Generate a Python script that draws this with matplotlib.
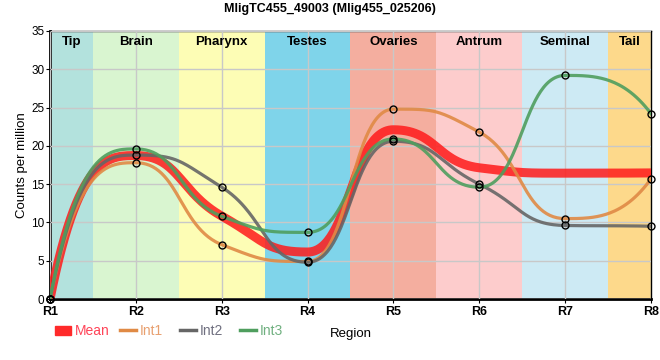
import matplotlib.pyplot as plt
import numpy as np
from matplotlib.lines import Line2D
from matplotlib.patches import Patch

plt.rcParams['font.family'] = ['Liberation Sans', 'DejaVu Sans']

regions = ['R1', 'R2', 'R3', 'R4', 'R5', 'R6', 'R7', 'R8']
tissues = ['Tip', 'Brain', 'Pharynx', 'Testes', 'Ovaries', 'Antrum', 'Seminal', 'Tail']
tissue_colors = ['#b3e2dd', '#d9f5d0', '#fdfdb5', '#7fd4ea',
                 '#f4ae9f', '#fdcccc', '#cdeaf4', '#fdd98b']
int1 = [0, 17.8, 7.1, 4.9, 24.8, 21.8, 10.5, 15.7]
int2 = [0, 18.8, 14.6, 4.8, 20.6, 15.0, 9.6, 9.5]
int3 = [0, 19.6, 10.8, 8.7, 20.9, 14.6, 29.2, 24.2]
mean = list(np.mean([int1, int2, int3], axis=0))


def spline(y, n=60):
    # bezier spline, tangents clamped so control points stay between neighbours
    y = np.asarray(y, float)
    k = len(y)
    x = np.arange(k, dtype=float)
    c = 0.5
    lc = [None] * k
    rc = [None] * k
    slope = np.zeros(k)
    for i in range(1, k - 1):
        ly = (y[i] + y[i - 1]) / 2
        ry = (y[i] + y[i + 1]) / 2
        corr = (ry - ly) / 2 + y[i] - ry
        ly += corr
        ry += corr
        if ly > y[i - 1] and ly > y[i]:
            ly = max(y[i - 1], y[i])
            ry = 2 * y[i] - ly
        elif ly < y[i - 1] and ly < y[i]:
            ly = min(y[i - 1], y[i])
            ry = 2 * y[i] - ly
        if ry > y[i + 1] and ry > y[i]:
            ry = max(y[i + 1], y[i])
            ly = 2 * y[i] - ry
        elif ry < y[i + 1] and ry < y[i]:
            ry = min(y[i + 1], y[i])
            ly = 2 * y[i] - ry
        slope[i] = (ry - ly) / (2 * c)
        lc[i] = (x[i] - c, ly)
        rc[i] = (x[i] + c, ry)
    # end segments: plain cubic with the far end aimed at the neighbour level
    rc[0] = (x[0] + 1 / 3, y[1])
    lc[k - 1] = (x[k - 1] - 1 / 3, y[k - 2])
    u = np.linspace(0, 1, n)[:, None]
    pts = []
    for i in range(k - 1):
        p1 = rc[i]
        p2 = lc[i + 1]
        if i == 0:
            p2 = (x[1] - 1 / 3, y[1] - slope[1] / 3)
        if i == k - 2:
            p1 = (x[i] + 1 / 3, y[i] + slope[i] / 3)
        p0 = np.array([x[i], y[i]])
        p3 = np.array([x[i + 1], y[i + 1]])
        p1 = np.array(p1)
        p2 = np.array(p2)
        pts.append((1 - u)**3 * p0 + 3 * (1 - u)**2 * u * p1
                   + 3 * (1 - u) * u**2 * p2 + u**3 * p3)
    pts = np.vstack(pts)
    return pts[:, 0], pts[:, 1]


fig = plt.figure(figsize=(6.6, 3.6), dpi=100)
ax = fig.add_axes([50 / 660, 61 / 360, 601 / 660, 268 / 360])

for i, (name, col) in enumerate(zip(tissues, tissue_colors)):
    ax.axvspan(max(i - 0.5, 0), min(i + 0.5, 7), color=col, lw=0, zorder=0)
    ax.text(i + (0.25 if i == 0 else -0.25 if i == 7 else 0), 34.3, name,
            ha='center', va='top', fontsize=9.5, fontweight='bold', zorder=5)

ax.grid(True, color='#c8c8c8', lw=1, zorder=1)
ax.set_axisbelow(False)

series = [('Int1', int1, '#e08a45'), ('Int2', int2, '#666666'), ('Int3', int3, '#4f9e5e')]
xm, ym = spline(mean)
ax.plot(xm, ym, color='#ff1a1a', lw=6.5, alpha=0.85, solid_capstyle='butt', zorder=3)
for name, vals, col in series:
    xs, ys = spline(vals)
    ax.plot(xs, ys, color=col, lw=2.3, alpha=0.9, zorder=4)
for name, vals, col in series:
    ax.plot(range(8), vals, 'o', ms=5, mfc='none', mec='black', mew=1, zorder=6,
            clip_on=False)

ax.set_xlim(0, 7)
ax.set_ylim(0, 35)
ax.set_xticks(range(8))
ax.set_xticklabels(regions, fontweight='bold', fontsize=9)
ax.set_yticks(range(0, 36, 5))
ax.tick_params(axis='y', labelsize=8.5, length=3, pad=1)
ax.tick_params(axis='x', length=3, pad=2)
for sp in ['left', 'bottom']:
    ax.spines[sp].set_linewidth(2)
for sp in ['top', 'right']:
    ax.spines[sp].set_linewidth(1)

ax.set_ylabel('Counts per million', fontsize=9.5, labelpad=2)
ax.set_xlabel('Region', fontsize=9.5, labelpad=7)
fig.text(0.5, 1 - 9 / 360, 'MligTC455_49003 (Mlig455_025206)', ha='center', va='center',
         fontsize=9, fontweight='bold')

# legend entries placed one by one, like the original's uneven spacing
leg_x = [55, 120, 180, 240]
leg_text_colors = ['#ff4458', '#e8a070', '#707080', '#70b080']
handles = [Patch(color='#ff2a2a', label='Mean')] + \
    [Line2D([], [], color=col, lw=2.5, label=n) for n, _, col in series]
for h, lx, tc in zip(handles, leg_x, leg_text_colors):
    leg = fig.legend(handles=[h], loc='center left', bbox_to_anchor=(lx / 660, 29 / 360),
                     frameon=False, fontsize=10, handlelength=1.15, handleheight=0.6,
                     handletextpad=0.25, borderpad=0, borderaxespad=0)
    leg.get_texts()[0].set_color(tc)

fig.savefig('out.png', dpi=100)
